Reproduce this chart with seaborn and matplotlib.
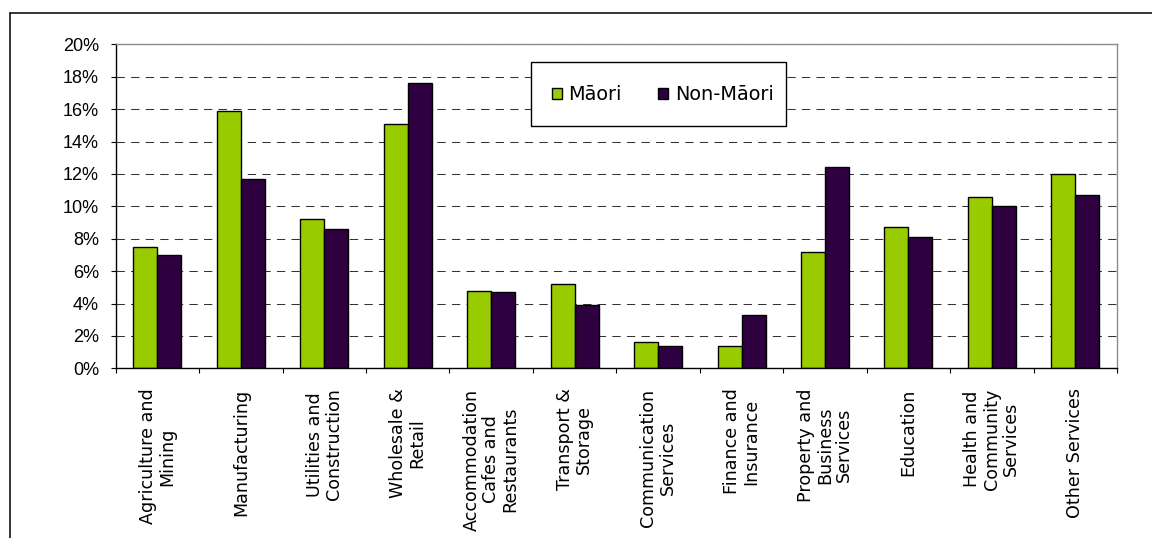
import matplotlib
matplotlib.use("Agg")
import matplotlib.pyplot as plt
from matplotlib.lines import Line2D
from matplotlib.patches import Patch, Rectangle
from matplotlib.ticker import FuncFormatter, FixedLocator
import seaborn as sns
import pandas as pd

industries = [
    "Agriculture and\nMining",
    "Manufacturing",
    "Utilities and\nConstruction",
    "Wholesale &\nRetail",
    "Accommodation\nCafes and\nRestaurants",
    "Transport &\nStorage",
    "Communication\nServices",
    "Finance and\nInsurance",
    "Property and\nBusiness\nServices",
    "Education",
    "Health and\nCommunity\nServices",
    "Other Services",
]
maori = [7.5, 15.9, 9.2, 15.1, 4.8, 5.2, 1.6, 1.4, 7.2, 8.7, 10.6, 12.0]
non_maori = [7.0, 11.7, 8.6, 17.6, 4.7, 3.9, 1.4, 3.3, 12.4, 8.1, 10.0, 10.7]
groups = ["Māori", "Non-Māori"]
y_ticks = list(range(0, 21, 2))

GREEN = "#99CC00"
PURPLE = "#2E0040"

df = pd.DataFrame({
    "industry": industries * 2,
    "share": maori + non_maori,
    "group": [groups[0]] * len(industries) + [groups[1]] * len(industries),
})

sns.set_style("white")
plt.rcParams.update({
    "text.color": "black",
    "xtick.color": "black",
    "ytick.color": "black",
    "xtick.labelcolor": "black",
    "ytick.labelcolor": "black",
})

W, H = 1152, 538
fig = plt.figure(figsize=(W / 100, H / 100), dpi=100)
fig.patch.set_facecolor("white")

ax = fig.add_axes([115.7 / W, 1 - 368.3 / H, (1117 - 115.7) / W, (368.3 - 44.3) / H])

sns.barplot(data=df, x="industry", y="share", hue="group",
            palette=[GREEN, PURPLE], width=0.575, edgecolor="black",
            linewidth=1.0, ax=ax, legend=False, saturation=1)

ax.set_xlim(-0.5, len(industries) - 0.5)
ax.set_ylim(0, 20)
ax.set_xlabel("")
ax.set_ylabel("")

# y axis: percent labels with dashed gridlines
ax.yaxis.set_major_locator(FixedLocator(y_ticks))
ax.yaxis.set_major_formatter(FuncFormatter(lambda v, p: f"{v:.0f}%"))
ax.tick_params(axis="y", direction="out", length=3.6, width=0.8, color="black",
               labelcolor="black", pad=8.4, labelsize=13, left=True)
for lab in ax.get_yticklabels():
    lab.set_fontfamily("Liberation Sans")
ax.set_axisbelow(True)
ax.yaxis.grid(True, color="#333333", linewidth=0.75, linestyle=(0, (8, 6)))
ax.xaxis.grid(False)

# x axis: labels centred on groups, ticks at group boundaries
ax.set_xticks(range(len(industries)))
ax.set_xticklabels(industries, rotation=90, fontsize=12.6, family="DejaVu Sans",
                   linespacing=1.1, ha="center", va="top", multialignment="center",
                   color="black")
ax.tick_params(axis="x", which="major", length=0, pad=14.5)
ax.set_xticks([i - 0.5 for i in range(len(industries) + 1)], minor=True)
ax.tick_params(axis="x", which="minor", direction="out", length=3.6, width=0.8,
               color="black", bottom=True)

for side in ["left", "bottom"]:
    ax.spines[side].set_color("black")
    ax.spines[side].set_linewidth(1.0)
for side in ["top", "right"]:
    ax.spines[side].set_visible(True)
    ax.spines[side].set_color("#8c8c8c")
    ax.spines[side].set_linewidth(1.0)

# legend: entries without frame, box drawn separately
box = Rectangle((531 / W, 1 - 126 / H), (786 - 531) / W, (126 - 62) / H,
                transform=fig.transFigure, facecolor="white", edgecolor="black",
                linewidth=1.0, zorder=5)
fig.add_artist(box)
handles = [Patch(facecolor=GREEN, edgecolor="black", linewidth=1.0),
           Patch(facecolor=PURPLE, edgecolor="black", linewidth=1.0)]
leg = fig.legend(handles, groups, loc="center left",
                 bbox_to_anchor=(551.5 / W, 1 - 95 / H), ncol=2,
                 prop={"family": "DejaVu Sans", "size": 13.9},
                 handlelength=0.52, handleheight=0.52, handletextpad=0.35,
                 columnspacing=1.9, borderpad=0, borderaxespad=0,
                 frameon=False, labelcolor="black")
leg.set_zorder(6)

# chart frame (top and left edges)
fy = 1 - 13 / H
fx = 10 / W
fig.add_artist(Line2D([fx, 1], [fy, fy], transform=fig.transFigure, color="black", linewidth=1.1))
fig.add_artist(Line2D([fx, fx], [0, fy], transform=fig.transFigure, color="black", linewidth=1.1))

fig.savefig("out.png", dpi=100, facecolor="white")
